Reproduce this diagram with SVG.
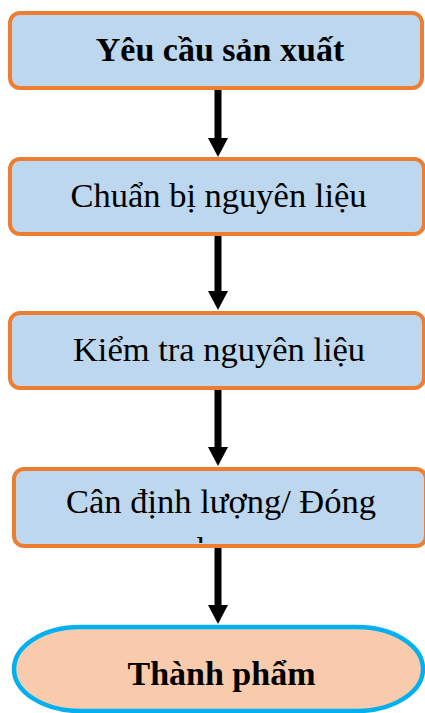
<svg xmlns="http://www.w3.org/2000/svg" width="425" height="713" viewBox="0 0 425 713">
<style>
.box{fill:#BDD7EE;stroke:#ED7D31;stroke-width:4}
.end{fill:#F8CBAD;stroke:#00B0F0;stroke-width:4.5}
.t{font-family:"Liberation Serif","Times New Roman",serif;font-size:34.5px;fill:#000;text-anchor:middle}
.b{font-weight:bold;font-size:34px}
.arr{stroke:#000;stroke-width:7;fill:none;marker-end:url(#ah)}
</style>
<defs>
<marker id="ah" markerUnits="userSpaceOnUse" markerWidth="20" markerHeight="20" refX="0" refY="10" orient="auto" overflow="visible">
<path d="M0,0 L19,10 L0,20 Z" fill="#000"/>
</marker>
<clipPath id="c4"><rect x="16" y="471" width="410" height="72"/></clipPath>
</defs>
<g id="connectors">
<line class="arr" x1="218" y1="90" x2="218" y2="138"/>
<line class="arr" x1="218" y1="236" x2="218" y2="291"/>
<line class="arr" x1="218" y1="390" x2="218" y2="447"/>
<line class="arr" x1="218" y1="548" x2="218" y2="605"/>
</g>
<g id="n1">
<rect class="box" x="10" y="13" width="412" height="75" rx="10"/>
<text class="t b" x="220" y="61">Yêu cầu sản xuất</text>
</g>
<g id="n2">
<rect class="box" x="10" y="159" width="414" height="75" rx="10"/>
<text class="t" x="218.5" y="207">Chuẩn bị nguyên liệu</text>
</g>
<g id="n3">
<rect class="box" x="10" y="313" width="414" height="75" rx="10"/>
<text class="t" x="219" y="361">Kiểm tra nguyên liệu</text>
</g>
<g id="n4">
<rect class="box" x="14" y="469" width="412" height="77" rx="10"/>
<g clip-path="url(#c4)">
<text class="t" x="221" y="513">Cân định lượng/ Đóng</text>
<text class="t" x="222" y="561">bao</text>
</g>
</g>
<g id="n5">
<rect class="end" x="14" y="627" width="409" height="84" rx="66" ry="42"/>
<text class="t b" x="221.5" y="685">Thành phẩm</text>
</g>
</svg>
